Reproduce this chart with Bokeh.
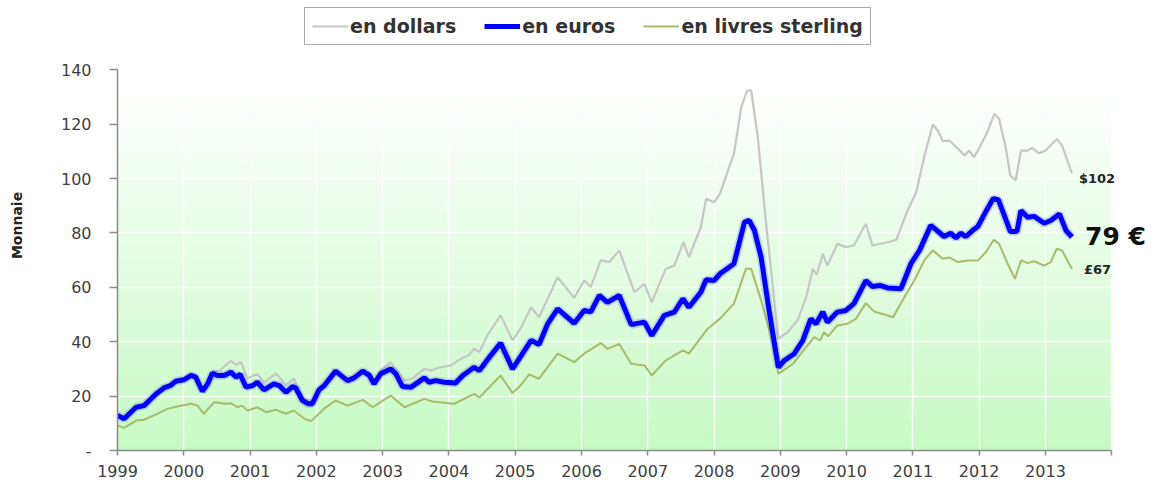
import numpy as np
from bokeh.plotting import figure
from bokeh.models import Legend, LegendItem, FixedTicker, Label, Range1d
from bokeh.embed import file_html
from bokeh.resources import INLINE

# ---------------- data ----------------
years = list(range(1999, 2015))
year_label_overrides = {2014: ""}
y_ticks = [0, 20, 40, 60, 80, 100, 120, 140]
y_label_overrides = {0: "-"}

eur_x = [1999.00, 1999.10, 1999.28, 1999.40, 1999.48, 1999.58, 1999.70, 1999.80, 1999.88,
         2000.00, 2000.11, 2000.18, 2000.28, 2000.36, 2000.43, 2000.51, 2000.61, 2000.71,
         2000.79, 2000.85, 2000.94, 2001.04, 2001.11, 2001.21, 2001.36, 2001.44, 2001.54,
         2001.64, 2001.69, 2001.79, 2001.87, 2001.94, 2002.04, 2002.12, 2002.29, 2002.47,
         2002.57, 2002.70, 2002.80, 2002.87, 2002.97, 2003.12, 2003.20, 2003.30, 2003.43,
         2003.63, 2003.70, 2003.80, 2003.93, 2004.10, 2004.21, 2004.38, 2004.46, 2004.63,
         2004.78, 2004.96, 2005.09, 2005.24, 2005.36, 2005.49, 2005.64, 2005.89, 2006.04,
         2006.14, 2006.27, 2006.39, 2006.57, 2006.75, 2006.95, 2007.06, 2007.25, 2007.40,
         2007.53, 2007.62, 2007.80, 2007.88, 2008.00, 2008.09, 2008.30, 2008.46, 2008.53,
         2008.61, 2008.71, 2008.83, 2008.97, 2009.06, 2009.21, 2009.34, 2009.46, 2009.54,
         2009.64, 2009.71, 2009.86, 2009.99, 2010.11, 2010.29, 2010.39, 2010.50, 2010.62,
         2010.82, 2010.97, 2011.10, 2011.27, 2011.47, 2011.57, 2011.65, 2011.72, 2011.80,
         2011.90, 2011.98, 2012.11, 2012.21, 2012.29, 2012.37, 2012.47, 2012.57, 2012.63,
         2012.73, 2012.83, 2012.98, 2013.08, 2013.21, 2013.31, 2013.40]
eur_y = [12.9, 11.7, 15.9, 16.5, 18.4, 20.8, 23.0, 23.9, 25.5,
         26.0, 27.6, 27.0, 21.8, 24.5, 28.4, 27.6, 27.6, 28.8,
         27.0, 28.0, 23.3, 23.9, 25.1, 22.3, 24.5, 23.9, 21.4,
         23.5, 23.0, 18.4, 17.2, 17.2, 22.3, 23.9, 29.2, 25.7,
         26.7, 29.2, 27.6, 24.5, 28.2, 30.0, 28.2, 23.5, 23.3,
         26.7, 25.1, 25.7, 25.1, 24.8, 27.6, 30.6, 29.4, 34.9,
         39.5, 30.0, 34.9, 40.5, 39.0, 46.6, 52.1, 46.8, 51.5,
         51.0, 57.0, 54.5, 57.0, 46.3, 47.2, 42.3, 49.7, 50.9,
         55.8, 52.7, 58.2, 62.8, 62.5, 65.0, 68.7, 84.0, 84.6,
         80.9, 71.1, 51.5, 30.6, 33.1, 35.6, 40.5, 48.4, 46.6,
         50.9, 47.2, 50.9, 51.5, 54.0, 62.5, 60.3, 60.7, 59.8,
         59.5, 68.7, 73.6, 82.8, 78.7, 79.9, 78.2, 79.9, 78.7,
         80.9, 82.4, 88.3, 92.6, 92.2, 87.0, 80.5, 80.5, 88.3,
         85.8, 86.1, 83.6, 84.6, 87.0, 80.9, 78.5]

usd_x = [1999.00, 1999.10, 1999.28, 1999.40, 1999.58, 1999.70, 1999.88, 2000.00, 2000.11,
         2000.18, 2000.28, 2000.43, 2000.55, 2000.71, 2000.79, 2000.86, 2000.96, 2001.11,
         2001.21, 2001.39, 2001.54, 2001.66, 2001.79, 2001.92, 2002.04, 2002.20, 2002.29,
         2002.47, 2002.70, 2002.80, 2002.87, 2002.97, 2003.12, 2003.20, 2003.33, 2003.45,
         2003.63, 2003.73, 2003.85, 2004.03, 2004.18, 2004.30, 2004.38, 2004.46, 2004.58,
         2004.78, 2004.96, 2005.09, 2005.24, 2005.36, 2005.64, 2005.89, 2006.04, 2006.14,
         2006.29, 2006.42, 2006.57, 2006.80, 2006.95, 2007.06, 2007.27, 2007.40, 2007.54,
         2007.62, 2007.80, 2007.88, 2008.00, 2008.09, 2008.21, 2008.30, 2008.41, 2008.50,
         2008.56, 2008.66, 2008.78, 2008.97, 2009.11, 2009.26, 2009.39, 2009.49, 2009.55,
         2009.64, 2009.71, 2009.86, 2009.99, 2010.11, 2010.29, 2010.39, 2010.62, 2010.75,
         2010.92, 2011.05, 2011.17, 2011.30, 2011.38, 2011.45, 2011.55, 2011.68, 2011.78,
         2011.85, 2011.92, 2011.98, 2012.11, 2012.23, 2012.30, 2012.40, 2012.47, 2012.55,
         2012.63, 2012.73, 2012.80, 2012.90, 2013.00, 2013.17, 2013.25, 2013.33, 2013.40]
usd_y = [13.5, 12.2, 16.0, 16.8, 21.0, 23.3, 25.5, 26.0, 27.8,
         27.0, 22.0, 28.8, 29.5, 33.0, 31.5, 32.5, 26.5, 28.2,
         25.0, 28.4, 24.0, 26.4, 19.5, 18.0, 22.8, 26.0, 28.8,
         26.0, 29.0, 28.5, 25.5, 29.5, 32.5, 30.0, 25.7, 26.5,
         30.0, 29.4, 30.5, 31.3, 33.7, 35.0, 37.4, 36.2, 42.3,
         49.7, 40.5, 45.3, 52.7, 49.0, 63.7, 56.2, 62.5, 60.1,
         69.9, 69.3, 73.6, 58.2, 61.3, 54.5, 66.8, 68.0, 76.6,
         71.1, 82.1, 92.6, 91.3, 94.4, 103.0, 109.1, 126.3, 132.4,
         132.4, 115.2, 84.6, 41.1, 43.5, 47.8, 56.4, 66.8, 64.7,
         72.3, 68.0, 76.0, 74.8, 75.4, 83.4, 75.4, 76.6, 77.5,
         88.3, 95.0, 107.9, 119.9, 117.5, 113.8, 114.0, 111.0, 108.5,
         110.3, 107.9, 110.3, 116.4, 123.8, 122.0, 111.5, 101.1, 99.3,
         110.3, 110.3, 111.3, 109.3, 110.3, 114.6, 112.2, 106.6, 102.0]

gbp_x = [1999.00, 1999.10, 1999.28, 1999.40, 1999.60, 1999.75, 1999.90, 2000.11, 2000.21,
         2000.30, 2000.46, 2000.61, 2000.71, 2000.81, 2000.88, 2000.96, 2001.11, 2001.24,
         2001.39, 2001.54, 2001.66, 2001.82, 2001.92, 2002.04, 2002.12, 2002.29, 2002.47,
         2002.70, 2002.85, 2003.12, 2003.33, 2003.63, 2003.75, 2004.08, 2004.38, 2004.46,
         2004.78, 2004.96, 2005.08, 2005.21, 2005.36, 2005.64, 2005.89, 2006.04, 2006.29,
         2006.39, 2006.57, 2006.75, 2006.95, 2007.06, 2007.27, 2007.53, 2007.62, 2007.90,
         2008.09, 2008.30, 2008.48, 2008.56, 2008.71, 2008.85, 2008.97, 2009.19, 2009.39,
         2009.51, 2009.60, 2009.66, 2009.72, 2009.86, 2010.01, 2010.14, 2010.29, 2010.42,
         2010.57, 2010.70, 2010.87, 2011.02, 2011.17, 2011.30, 2011.45, 2011.55, 2011.68,
         2011.83, 2011.98, 2012.10, 2012.22, 2012.30, 2012.43, 2012.54, 2012.63, 2012.73,
         2012.83, 2012.98, 2013.08, 2013.17, 2013.25, 2013.33, 2013.40]
gbp_y = [9.2, 8.3, 11.0, 11.3, 13.5, 15.3, 16.2, 17.2, 16.5,
         13.5, 17.8, 17.2, 17.4, 15.9, 16.5, 14.7, 15.9, 14.1,
         15.0, 13.5, 14.7, 11.7, 10.8, 13.5, 15.5, 18.4, 16.5,
         18.6, 15.9, 20.2, 15.9, 19.0, 18.0, 17.2, 20.8, 19.5,
         27.6, 21.1, 23.9, 28.0, 26.4, 35.6, 32.5, 35.6, 39.5,
         37.4, 39.2, 31.9, 31.3, 27.6, 33.1, 36.8, 35.6, 44.7,
         48.5, 54.0, 66.8, 66.8, 55.2, 42.9, 28.2, 31.9, 38.0,
         41.7, 40.5, 43.5, 42.0, 46.0, 46.6, 48.4, 54.2, 51.0,
         50.0, 49.0, 56.4, 62.5, 69.9, 73.6, 70.5, 71.0, 69.3,
         69.9, 69.9, 72.9, 77.5, 76.0, 68.7, 63.1, 69.9, 68.9,
         69.6, 68.0, 69.3, 74.2, 73.6, 69.9, 66.8]

series_names = ["en dollars", "en euros", "en livres sterling"]
end_labels = ["$102", "79 €", "£67"]

FONT = "DejaVu Sans"

# ---------------- figure ----------------
# The frame covers the whole area right of / above the axes so that the legend and
# the end labels (which sit outside the data area) are not clipped; axis bounds keep
# the visible axes at 1999-2014 and 0-140.
p = figure(width=1155, height=484,
           x_range=Range1d(years[0], 2014.66), y_range=Range1d(y_ticks[0], 165.5),
           output_backend="svg", toolbar_location=None,
           min_border_left=117, min_border_right=0, min_border_top=0, min_border_bottom=34,
           background_fill_color="white", border_fill_color="white",
           outline_line_color=None)

# vertical gradient background (white top -> pale green bottom), only inside 1999-2014 / 0-140
n_bands = 70
edges = np.linspace(y_ticks[0], y_ticks[-1], n_bands + 1)
bottoms = edges[:-1]
tops = edges[1:]
t = ((bottoms + tops) / 2 - y_ticks[0]) / (y_ticks[-1] - y_ticks[0])
top_rgb = np.array([255, 255, 255])
bot_rgb = np.array([198, 250, 196])
band_colors = ["#%02x%02x%02x" % tuple(int(round(c)) for c in (bot_rgb + (top_rgb - bot_rgb) * min(1.0, tt * 1.05)))
               for tt in t]
p.quad(left=years[0], right=years[-1], bottom=bottoms, top=tops,
       fill_color=band_colors, line_color=band_colors, line_width=1, level="image")

# grids (white; invisible outside the green area)
p.xgrid.ticker = FixedTicker(ticks=years)
p.ygrid.ticker = FixedTicker(ticks=y_ticks)
p.xgrid.bounds = (y_ticks[0], y_ticks[-1])
p.ygrid.bounds = (years[0], years[-1])
for g in (p.xgrid, p.ygrid):
    g.grid_line_color = "white"
    g.grid_line_width = 1.5
    g.grid_line_alpha = 0.9

# axes
axis_color = "#8a8a8a"
p.xaxis.ticker = FixedTicker(ticks=years)
p.xaxis.major_label_overrides = year_label_overrides
p.xaxis.bounds = (years[0], years[-1])
p.yaxis.ticker = FixedTicker(ticks=y_ticks)
p.yaxis.major_label_overrides = y_label_overrides
p.yaxis.bounds = (y_ticks[0], y_ticks[-1])
for ax in (p.xaxis, p.yaxis):
    ax.axis_line_color = axis_color
    ax.axis_line_width = 1.5
    ax.major_tick_line_color = axis_color
    ax.major_tick_line_width = 1.5
    ax.minor_tick_line_color = None
    ax.major_tick_in = 0
    ax.major_label_text_font = FONT
    ax.major_label_text_color = "#404040"
p.xaxis.major_tick_out = 5
p.xaxis.major_label_standoff = 9
p.xaxis.major_label_text_font_size = "16px"
p.yaxis.major_tick_out = 8
p.yaxis.major_label_standoff = 18
p.yaxis.major_label_text_font_size = "16px"
p.yaxis.axis_label = "Monnaie"
p.yaxis.axis_label_text_font = FONT
p.yaxis.axis_label_text_font_style = "bold"
p.yaxis.axis_label_text_font_size = "14px"
p.yaxis.axis_label_text_color = "#222222"
p.yaxis.axis_label_standoff = 33

# lines
r_usd = p.line(usd_x, usd_y, line_color="#c6c6c6", line_width=2.2)
r_gbp = p.line(gbp_x, gbp_y, line_color="#a9ba6b", line_width=2)
p.line(eur_x, eur_y, line_color="#3a3aff", line_width=8.5, line_alpha=0.22)
r_eur = p.line(eur_x, eur_y, line_color="#0000ff", line_width=5)

# legend (above the green area)
legend = Legend(items=[LegendItem(label=series_names[0], renderers=[r_usd]),
                       LegendItem(label=series_names[1], renderers=[r_eur]),
                       LegendItem(label=series_names[2], renderers=[r_gbp])],
                orientation="horizontal", location=(187, 405),
                glyph_width=36, glyph_height=20, label_standoff=2, spacing=28,
                padding=7, margin=0,
                border_line_color="#555555", border_line_width=1.5,
                background_fill_color="white", background_fill_alpha=1,
                label_text_font=FONT, label_text_font_style="bold",
                label_text_font_size="19px", label_text_color="#333333")
p.add_layout(legend)

# end-of-line value labels
p.add_layout(Label(x=usd_x[-1], y=usd_y[-1], x_offset=7, y_offset=-5, text=end_labels[0],
                   text_font=FONT, text_font_style="bold", text_font_size="13px",
                   text_color="#222222", text_baseline="middle"))
p.add_layout(Label(x=eur_x[-1], y=eur_y[-1], x_offset=13, y_offset=1, text=end_labels[1],
                   text_font=FONT, text_font_style="bold", text_font_size="25px",
                   text_color="#111111", text_baseline="middle"))
p.add_layout(Label(x=gbp_x[-1], y=gbp_y[-1], x_offset=12, y_offset=-1, text=end_labels[2],
                   text_font=FONT, text_font_style="bold", text_font_size="13px",
                   text_color="#222222", text_baseline="middle"))

open("out.html", "w").write(file_html(p, INLINE))
